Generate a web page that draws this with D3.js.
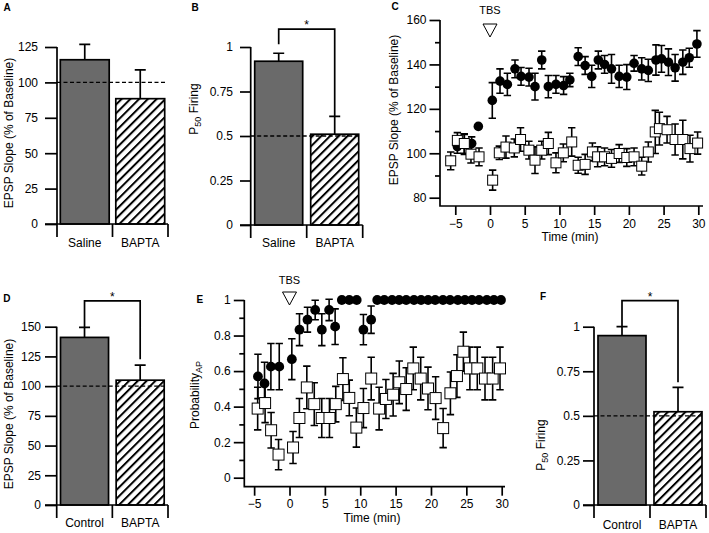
<!DOCTYPE html>
<html>
<head>
<meta charset="utf-8" />
<title>EPSP slope and firing probability, Saline/Control vs BAPTA</title>
<script src="https://d3js.org/d3.v7.min.js"></script>
<style>
  body { margin: 0; background: #fff; }
  svg { display: block; font-family: "Liberation Sans", Arial, sans-serif; }
</style>
</head>
<body>
<svg id="fig" width="709" height="533"></svg>
<script>
// ---- data ----

// A: EPSP slope, saline vs BAPTA
var aLabels = ["Saline", "BAPTA"];
var aMeans = [116, 88.5];
var aErrs = [10.8, 20.3];
var aTicks = [0, 25, 50, 75, 100, 125];

// B: P50 firing, saline vs BAPTA
var bLabels = ["Saline", "BAPTA"];
var bMeans = [0.92, 0.51];
var bErrs = [0.045, 0.1];
var bTicks = [0, 0.25, 0.5, 0.75, 1];

// C: EPSP slope time course (circles = control, squares = BAPTA)
var cCtrlTime = [-4.7, -3.7, -2.64, -1.68, 0.33, 1.44, 2.5, 3.6, 4.47, 5.62, 6.48, 7.45, 8.4, 9.5, 10.6, 11.5, 12.7, 13.7, 14.65, 15.6, 16.5, 17.5, 18.6, 19.7, 20.75, 21.85, 22.8, 23.9, 24.7, 25.7, 26.66, 27.77, 28.7, 29.8];
var cCtrlMean = [103, 104, 104.4, 112.1, 123.8, 132.5, 131, 138, 134.6, 134.3, 130, 142, 130, 131, 130.5, 133, 143.5, 139.5, 134.6, 142, 140, 138, 134.6, 134.3, 140.5, 138, 137.3, 142, 142.5, 141, 138.5, 141, 143, 149.2];
var cCtrlErr = [3, 4.5, 3, 0, 8, 5.5, 5, 4, 4, 4, 6, 4, 5, 4, 4, 3, 4, 4, 5, 4, 4, 6.5, 5, 5.6, 3.5, 5, 5, 6.8, 6, 6, 6, 5.5, 4.3, 6];
var cBaptaTime = [-5.66, -4.7, -3.7, -2.74, -1.58, 0.38, 1.34, 2.3, 3.5, 4.4, 5.6, 6.48, 7.45, 8.4, 9.5, 10.56, 11.77, 12.7, 13.7, 14.75, 15.5, 16.5, 17.5, 18.6, 19.7, 20.75, 21.85, 22.8, 23.8, 24.4, 25.5, 26.66, 27.77, 28.8, 29.9];
var cBaptaMean = [96.6, 105.8, 104.4, 99.6, 98.4, 87.9, 100.2, 102.8, 102.4, 106.2, 101.4, 96.9, 101.4, 104.4, 95.7, 100.2, 105.1, 94.6, 95, 100.6, 98.4, 98.4, 97.7, 99.9, 98.1, 98.4, 94.2, 100.6, 109.6, 111.1, 110.6, 106.2, 106.2, 102.1, 104.6];
var cBaptaErr = [4, 3.5, 4.4, 4, 4, 4.5, 3, 5, 4, 5.3, 4, 6, 4, 5, 4.5, 4, 6.4, 3.6, 4.5, 4, 4.5, 4, 4, 4, 4, 4, 4, 4.5, 9.7, 7.4, 6, 7, 8.7, 6, 5];
var cYTicks = [80, 100, 120, 140, 160];
var cYMinor = [90, 110, 130, 150];
var timeTicks = [-5, 0, 5, 10, 15, 20, 25, 30];

// D: EPSP slope, control vs BAPTA
var dLabels = ["Control", "BAPTA"];
var dMeans = [141, 105];
var dErrs = [8.4, 12.6];
var dTicks = [0, 25, 50, 75, 100, 125, 150];

// E: probability of AP time course
var eCtrlTime = [-4.46, -3.53, -2.63, -1.45, 0.33, 1.41, 2.54, 3.63, 4.57, 5.6, 6.45, 7.4, 8.45, 9.5, 10.45, 11.54, 12.4, 13.4, 14.5, 15.5, 16.5, 17.6, 18.6, 19.6, 20.6, 21.7, 22.7, 23.8, 24.8, 25.8, 26.8, 27.9, 28.9, 29.9];
var eCtrlMean = [0.57, 0.53, 0.625, 0.625, 0.667, 0.833, 0.889, 0.944, 0.833, 0.944, 0.85, 1, 1, 1, 0.833, 0.889, 1, 1, 1, 1, 1, 1, 1, 1, 1, 1, 1, 1, 1, 1, 1, 1, 1, 1];
var eCtrlErr = [0.125, 0.12, 0.13, 0.13, 0.115, 0.09, 0.07, 0.055, 0.09, 0.06, 0.1, 0, 0, 0, 0.085, 0.077, 0, 0, 0, 0, 0, 0, 0, 0, 0, 0, 0, 0, 0, 0, 0, 0, 0, 0];
var eBaptaTime = [-4.5, -3.45, -2.6, -1.55, 0.5, 1.4, 2.45, 3.5, 4.56, 5.65, 6.54, 7.55, 8.45, 9.45, 10.45, 11.55, 12.67, 13.63, 14.65, 15.52, 16.5, 17.5, 18.55, 19.58, 20.66, 21.72, 22.75, 23.67, 24.58, 25.5, 26.55, 27.64, 28.72, 29.76];
var eBaptaMean = [0.389, 0.42, 0.267, 0.13, 0.17, 0.336, 0.508, 0.414, 0.336, 0.336, 0.414, 0.555, 0.449, 0.282, 0.392, 0.558, 0.389, 0.443, 0.467, 0.537, 0.499, 0.615, 0.558, 0.502, 0.448, 0.279, 0.475, 0.572, 0.709, 0.615, 0.615, 0.558, 0.558, 0.615];
var eBaptaErr = [0.12, 0.11, 0.1, 0.085, 0.09, 0.11, 0.12, 0.12, 0.11, 0.11, 0.1, 0.12, 0.1, 0.11, 0.11, 0.12, 0.12, 0.11, 0.12, 0.12, 0.12, 0.12, 0.12, 0.12, 0.12, 0.11, 0.12, 0.12, 0.11, 0.12, 0.12, 0.12, 0.12, 0.12];
var eYTicks = [0, 0.2, 0.4, 0.6, 0.8, 1];
var eYMinor = [0.1, 0.3, 0.5, 0.7, 0.9];

// F: P50 firing, control vs BAPTA
var fLabels = ["Control", "BAPTA"];
var fMeans = [0.95, 0.523];
var fErrs = [0.05, 0.137];
var fTicks = [0, 0.25, 0.5, 0.75, 1];

// ---- drawing ----
var svg = d3.select("#fig");
var LW = 1.7; // axis / outline width

// diagonal hatch for the BAPTA bars
var pat = svg.append("defs").append("pattern")
  .attr("id", "hatch")
  .attr("patternUnits", "userSpaceOnUse")
  .attr("width", 6.2).attr("height", 6.2)
  .attr("patternTransform", "rotate(45)");
pat.append("rect").attr("width", 6.2).attr("height", 6.2).attr("fill", "#fff");
pat.append("rect").attr("x", 0).attr("y", 0).attr("width", 2).attr("height", 6.2)
  .attr("fill", "#000");

function panelLetter(txt, x, y) {
  svg.append("text").attr("x", x).attr("y", y)
    .attr("font-size", 10).attr("font-weight", "bold").text(txt);
}

// rotated axis title; sub = subscript text (optional), rest = text after it
function yTitle(cx, cy, main, sub, rest) {
  var t = svg.append("text")
    .attr("transform", "translate(" + cx + "," + cy + ") rotate(-90)")
    .attr("text-anchor", "middle").attr("dy", "0.35em")
    .attr("font-size", 12);
  t.append("tspan").text(main);
  if (sub) {
    t.append("tspan").attr("font-size", 9).attr("dy", 3).text(sub);
    t.append("tspan").attr("dy", -3).text(rest || "");
  }
}

function barPanel(p) {
  var g = svg.append("g");
  var y = d3.scaleLinear().domain(p.domain).range([p.y0, p.y1]);
  var x = d3.scaleBand().domain(p.labels).range([p.x0, p.x1]);
  var xTick = 13;

  // bars
  g.selectAll("rect.bar")
    .data(p.means)
    .join("rect")
    .attr("class", "bar")
    .attr("x", function(d, i) { return x(p.labels[i]) + p.inset; })
    .attr("width", x.bandwidth() - 2 * p.inset)
    .attr("y", function(d) { return y(d); })
    .attr("height", function(d) { return y(p.domain[0]) - y(d); })
    .attr("fill", function(d, i) { return i == 0 ? "#6a6a6a" : "url(#hatch)"; })
    .attr("stroke", "#000")
    .attr("stroke-width", LW);

  // error bars (upper only)
  p.means.forEach(function(m, i) {
    var cx = x(p.labels[i]) + x.bandwidth() / 2;
    var top = y(m + p.errs[i]);
    g.append("path")
      .attr("d", "M" + cx + "," + y(m) + "V" + top + "M" + (cx - 5.5) + "," + top + "H" + (cx + 5.5))
      .attr("stroke", "#000").attr("stroke-width", LW).attr("fill", "none");
  });

  // reference dashed line
  g.append("line")
    .attr("x1", p.x0).attr("x2", p.x1 - 1.5)
    .attr("y1", y(p.dash)).attr("y2", y(p.dash))
    .attr("stroke", "#000").attr("stroke-width", 1.4)
    .attr("stroke-dasharray", "4,2.5");

  // y axis
  var ax = g.append("g")
    .attr("transform", "translate(" + p.x0 + ",0)")
    .call(d3.axisLeft(y).tickValues(p.ticks).tickSize(p.tickLen)
      .tickPadding(p.pad).tickFormat(function(d) { return d; }));
  ax.select(".domain").remove();
  ax.selectAll(".tick line").attr("stroke-width", LW);
  ax.selectAll(".tick text").attr("font-size", 12).attr("font-family", null).attr("fill", "#000");

  // axis lines
  g.append("line").attr("x1", p.x0).attr("x2", p.x0)
    .attr("y1", y(p.domain[1])).attr("y2", y(0) + xTick)
    .attr("stroke", "#000").attr("stroke-width", LW);
  g.append("line").attr("x1", p.x0 - p.tickLen).attr("x2", p.x1)
    .attr("y1", y(0)).attr("y2", y(0))
    .attr("stroke", "#000").attr("stroke-width", LW);
  x.domain().slice(1).forEach(function(c) {
    g.append("line").attr("x1", x(c)).attr("x2", x(c))
      .attr("y1", y(0)).attr("y2", y(0) + xTick)
      .attr("stroke", "#000").attr("stroke-width", LW);
  });
  g.append("line").attr("x1", p.x1).attr("x2", p.x1)
    .attr("y1", y(0)).attr("y2", y(0) + xTick)
    .attr("stroke", "#000").attr("stroke-width", LW);

  // category labels
  g.selectAll("text.cat")
    .data(p.labels)
    .join("text")
    .attr("class", "cat")
    .attr("x", function(d) { return x(d) + x.bandwidth() / 2; })
    .attr("y", p.labelY)
    .attr("dy", "0.35em")
    .attr("text-anchor", "middle")
    .attr("font-size", 12)
    .text(function(d) { return d; });

  // significance bracket
  if (p.bracket) {
    var lx = x(p.labels[0]) + x.bandwidth() / 2;
    var rx = x(p.labels[1]) + x.bandwidth() / 2;
    var ty = y(p.bracket.top);
    var ly = y(p.means[0] + p.errs[0]) - p.bracket.gaps[0];
    var ry = y(p.means[1] + p.errs[1]) - p.bracket.gaps[1];
    g.append("path")
      .attr("d", "M" + lx + "," + ly + "V" + ty + "H" + rx + "V" + ry)
      .attr("stroke", "#000").attr("stroke-width", LW).attr("fill", "none");
    g.append("text").attr("x", (lx + rx) / 2).attr("y", ty)
      .attr("text-anchor", "middle").attr("font-size", 12).text("*");
  }
}

function drawSeries(g, x, y, ts, vs, es, kind, size) {
  var pts = ts.map(function(t, i) { return { t: t, v: vs[i], e: es[i] }; });
  var eb = g.append("g").attr("stroke", "#000").attr("stroke-width", 1.6).attr("fill", "none");
  pts.filter(function(d) { return d.e > 0; }).forEach(function(d) {
    var cx = x(d.t), top = y(d.v + d.e), bot = y(d.v - d.e);
    eb.append("path").attr("d",
      "M" + cx + "," + top + "V" + bot +
      "M" + (cx - 3.7) + "," + top + "H" + (cx + 3.7) +
      "M" + (cx - 3.7) + "," + bot + "H" + (cx + 3.7));
  });
  if (kind == "circle") {
    g.append("g").selectAll("circle").data(pts).join("circle")
      .attr("cx", function(d) { return x(d.t); })
      .attr("cy", function(d) { return y(d.v); })
      .attr("r", size)
      .attr("fill", "#000");
  } else {
    g.append("g").selectAll("rect").data(pts).join("rect")
      .attr("x", function(d) { return x(d.t) - size / 2; })
      .attr("y", function(d) { return y(d.v) - size / 2; })
      .attr("width", size).attr("height", size)
      .attr("fill", "#fff").attr("stroke", "#000").attr("stroke-width", 1);
  }
}

function timePanel(p) {
  var g = svg.append("g");
  var x = d3.scaleLinear().domain([0, 30]).range(p.xRange);
  var y = d3.scaleLinear().domain(p.yDomain).range(p.yRange);

  // axis lines
  g.append("path")
    .attr("d", "M" + p.axX + "," + p.yTop + "V" + p.axY + "H" + p.xEnd)
    .attr("stroke", "#000").attr("stroke-width", LW).attr("fill", "none");

  var ay = g.append("g").attr("transform", "translate(" + p.axX + ",0)")
    .call(d3.axisLeft(y).tickValues(p.yTicks).tickSize(10.5).tickPadding(3)
      .tickFormat(function(d) { return d; }));
  ay.select(".domain").remove();
  var am = g.append("g").attr("transform", "translate(" + p.axX + ",0)")
    .call(d3.axisLeft(y).tickValues(p.yMinor).tickSize(5).tickFormat(""));
  am.select(".domain").remove();
  var axb = g.append("g").attr("transform", "translate(0," + p.axY + ")")
    .call(d3.axisBottom(x).tickValues(timeTicks).tickSize(9).tickPadding(4)
      .tickFormat(function(d) { return d < 0 ? "\u2212" + (-d) : d; }));
  axb.select(".domain").remove();
  g.selectAll(".tick line").attr("stroke-width", LW);
  g.selectAll(".tick text").attr("font-size", 12).attr("font-family", null).attr("fill", "#000");

  // titles
  g.append("text").attr("x", p.titleX).attr("y", p.axY + 31).attr("dy", "0.35em")
    .attr("text-anchor", "middle").attr("font-size", 12).text("Time (min)");

  // TBS marker
  var tx = x(0);
  g.append("text").attr("x", tx).attr("y", p.tbsY).attr("dy", "0.35em")
    .attr("text-anchor", "middle").attr("font-size", 11).text("TBS");
  g.append("path")
    .attr("d", "M" + (tx - 7) + "," + p.triTop + "H" + (tx + 7) + "L" + tx + "," + (p.triTop + 13) + "Z")
    .attr("fill", "#fff").attr("stroke", "#000").attr("stroke-width", 1);

  drawSeries(g, x, y, p.ctrlT, p.ctrlV, p.ctrlE, "circle", p.r);
  drawSeries(g, x, y, p.bapT, p.bapV, p.bapE, "square", p.sq);
}

// A
barPanel({ labels: aLabels, means: aMeans, errs: aErrs, ticks: aTicks, domain: [0, 125],
  x0: 57, x1: 168, y0: 224, y1: 47, tickLen: 12, pad: 7, inset: 3.3, dash: 100, labelY: 243 });
panelLetter("A", 3.5, 10.7);
yTitle(9, 133, "EPSP Slope (% of Baseline)");

// B
barPanel({ labels: bLabels, means: bMeans, errs: bErrs, ticks: bTicks, domain: [0, 1],
  x0: 250.7, x1: 362.7, y0: 225, y1: 47, tickLen: 10.7, pad: 7, inset: 4, dash: 0.5, labelY: 243,
  bracket: { top: 1.1, gaps: [9, 0] } });
panelLetter("B", 191.5, 10.7);
yTitle(194, 109, "P", "50", " Firing");

// C
timePanel({ axX: 440, axY: 206, yTop: 20, xEnd: 703, xRange: [490, 698.3],
  yDomain: [80, 160], yRange: [197.7, 20], yTicks: cYTicks, yMinor: cYMinor,
  titleX: 570, tbsY: 10, triTop: 24,
  ctrlT: cCtrlTime, ctrlV: cCtrlMean, ctrlE: cCtrlErr,
  bapT: cBaptaTime, bapV: cBaptaMean, bapE: cBaptaErr, r: 4.8, sq: 10 });
panelLetter("C", 391.5, 10);
yTitle(394, 110, "EPSP Slope (% of Baseline)");

// D
barPanel({ labels: dLabels, means: dMeans, errs: dErrs, ticks: dTicks, domain: [0, 150],
  x0: 56.7, x1: 168, y0: 505, y1: 326.7, tickLen: 11.7, pad: 4, inset: 3.8, dash: 100, labelY: 523,
  bracket: { top: 171.8, gaps: [0, 6] } });
panelLetter("D", 3.3, 301.7);
yTitle(9, 414, "EPSP Slope (% of Baseline)");

// E
timePanel({ axX: 244.3, axY: 486.7, yTop: 300, xEnd: 505, xRange: [289.5, 501.7],
  yDomain: [0, 1], yRange: [477.7, 300], yTicks: eYTicks, yMinor: eYMinor,
  titleX: 372, tbsY: 280, triTop: 292,
  ctrlT: eCtrlTime, ctrlV: eCtrlMean, ctrlE: eCtrlErr,
  bapT: eBaptaTime, bapV: eBaptaMean, bapE: eBaptaErr, r: 4.9, sq: 11 });
panelLetter("E", 196.5, 303.3);
yTitle(195, 395, "Probability", "AP", "");

// F
barPanel({ labels: fLabels, means: fMeans, errs: fErrs, ticks: fTicks, domain: [0, 1],
  x0: 594, x1: 706, y0: 505, y1: 326.7, tickLen: 11, pad: 3, inset: 4, dash: 0.5, labelY: 525,
  bracket: { top: 1.146, gaps: [0, 5] } });
panelLetter("F", 540, 300);
yTitle(541, 445, "P", "50", " Firing");
</script>
</body>
</html>
